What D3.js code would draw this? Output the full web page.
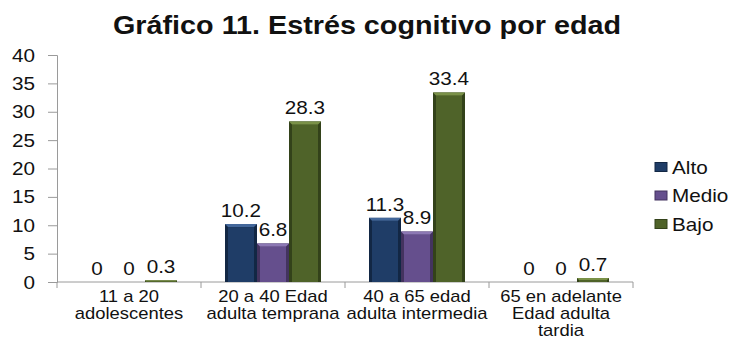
<!DOCTYPE html>
<html>
<head>
<meta charset="utf-8">
<script src="https://cdn.jsdelivr.net/npm/d3@7/dist/d3.min.js"></script>
<style>
  html, body { margin: 0; padding: 0; background: #fff; }
  svg { display: block; font-family: "Liberation Sans", Arial, sans-serif; }
</style>
</head>
<body>
<svg id="chart" width="735" height="340"></svg>
<script>
// Chart data
const categories = [
  ["11 a 20", "adolescentes"],
  ["20 a 40 Edad", "adulta temprana"],
  ["40 a 65 edad", "adulta intermedia"],
  ["65 en adelante", "Edad adulta", "tardia"]
];
const seriesNames = ["Alto", "Medio", "Bajo"];
const alto  = [0, 10.2, 11.3, 0];
const medio = [0, 6.8, 8.9, 0];
const bajo  = [0.3, 28.3, 33.4, 0.7];
const seriesValues = [alto, medio, bajo];
const yTicks = [0, 5, 10, 15, 20, 25, 30, 35, 40];
const titleText = "Gráfico 11. Estrés cognitivo por edad";

const colors = {
  Alto:  { body: "#1f3d67", light: "#43679a", dark: "#122744" },
  Medio: { body: "#654f8d", light: "#8c78b4", dark: "#43335f" },
  Bajo:  { body: "#4f6329", light: "#7a9148", dark: "#33421a" }
};

const SX = 1.15; // text is drawn slightly wide
const svg = d3.select("#chart");

function wideText(sel, x, y, anchor) {
  return sel.append("text")
    .attr("transform", `translate(${x},${y}) scale(${SX},1)`)
    .attr("text-anchor", anchor || "middle");
}

const plot = { left: 57, right: 633, top: 55, bottom: 282 };

const x0 = d3.scaleBand()
  .domain(d3.range(categories.length))
  .range([plot.left, plot.right])
  .padding(0);
const x1 = d3.scaleBand()
  .domain(seriesNames)
  .range([24, x0.bandwidth() - 24])
  .padding(0);
const y = d3.scaleLinear().domain([0, 40]).range([plot.bottom, plot.top]);

// Title
wideText(svg, 367, 34, "middle")
  .attr("font-size", 25)
  .attr("font-weight", "bold")
  .attr("fill", "#111")
  .text(titleText);

// Y axis
const yAxis = d3.axisLeft(y).tickValues(yTicks).tickSize(9).tickFormat("");
const gy = svg.append("g").attr("transform", `translate(${plot.left},0)`).call(yAxis);
gy.selectAll("path, line").attr("stroke", "#9a9a9a");
yTicks.forEach(t => {
  wideText(svg, 35, y(t) + 6.5, "end")
    .attr("font-size", 18)
    .attr("fill", "#111")
    .text(t);
});

// X axis
const gx = svg.append("g").attr("transform", `translate(0,${plot.bottom})`);
gx.append("line")
  .attr("x1", plot.left).attr("x2", plot.right)
  .attr("stroke", "#9a9a9a");
const bounds = d3.range(categories.length + 1).map(i =>
  i < categories.length ? x0(i) : x0(categories.length - 1) + x0.bandwidth());
gx.selectAll("line.tick").data(bounds).join("line")
  .attr("class", "tick")
  .attr("x1", d => d).attr("x2", d => d)
  .attr("y1", 0).attr("y2", 6)
  .attr("stroke", "#9a9a9a");

categories.forEach((lines, i) => {
  const cx = x0(i) + x0.bandwidth() / 2;
  lines.forEach((ln, j) => {
    wideText(svg, cx, 302 + j * 16.8, "middle")
      .attr("font-size", 16)
      .attr("fill", "#111")
      .text(ln);
  });
});

// Bars with a bevelled look
const bars = svg.append("g");
categories.forEach((c, i) => {
  seriesNames.forEach((s, k) => {
    const v = seriesValues[k][i];
    const bx = x0(i) + x1(s);
    const bw = x1.bandwidth();
    const by = y(v);
    const bh = y(0) - by;
    const col = colors[s];
    if (bh > 0) {
      const g = bars.append("g");
      g.append("rect").attr("x", bx).attr("y", by).attr("width", bw).attr("height", bh)
        .attr("fill", col.dark);
      const b = Math.min(3, bh / 2);
      g.append("rect").attr("x", bx + b).attr("y", by + b)
        .attr("width", bw - 2 * b).attr("height", Math.max(0, bh - b))
        .attr("fill", col.body);
      // lighter top bevel
      g.append("path")
        .attr("d", `M${bx},${by} L${bx + bw},${by} L${bx + bw - b},${by + b} L${bx + b},${by + b} Z`)
        .attr("fill", col.light);
    }
    // value label
    wideText(svg, bx + bw / 2, by - 7, "middle")
      .attr("font-size", 18)
      .attr("fill", "#111")
      .text(v);
  });
});

// Legend
const legend = svg.append("g");
seriesNames.forEach((s, k) => {
  const ly = 167 + k * 28.5;
  legend.append("rect")
    .attr("x", 655).attr("y", ly - 4.5)
    .attr("width", 12).attr("height", 9)
    .attr("fill", colors[s].body)
    .attr("stroke", colors[s].dark).attr("stroke-width", 1);
  wideText(legend, 672, ly + 6.5, "start")
    .attr("font-size", 18)
    .attr("fill", "#111")
    .text(s);
});
</script>
</body>
</html>
